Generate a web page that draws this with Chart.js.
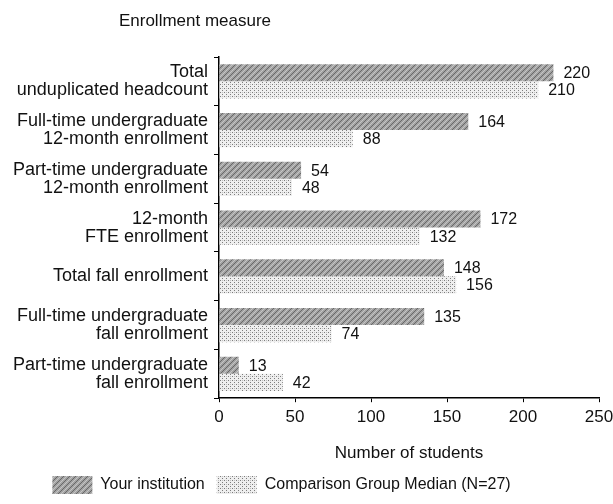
<!DOCTYPE html>
<html><head><meta charset="utf-8">
<script src="https://cdn.jsdelivr.net/npm/chart.js@4"></script>
<style>html,body{margin:0;padding:0;background:#fff}</style>
</head><body>
<canvas id="c" width="613" height="504"></canvas>
<script>
const categories = [
  ["Total", "unduplicated headcount"],
  ["Full-time undergraduate", "12-month enrollment"],
  ["Part-time undergraduate", "12-month enrollment"],
  ["12-month", "FTE enrollment"],
  ["Total fall enrollment"],
  ["Full-time undergraduate", "fall enrollment"],
  ["Part-time undergraduate", "fall enrollment"]
];
const yourInstitution = [220, 164, 54, 172, 148, 135, 13];
const comparisonMedian = [210, 88, 48, 132, 156, 74, 42];
const seriesNames = ["Your institution", "Comparison Group Median (N=27)"];
const xTicks = [0, 50, 100, 150, 200, 250];
const xAxisTitle = "Number of students";
const yAxisTitle = "Enrollment measure";

const FONT = '"Liberation Sans", Arial, sans-serif';

function makePattern(kind) {
  const c = document.createElement('canvas');
  const g = c.getContext('2d');
  if (kind === 'dark') {
    c.width = 6; c.height = 6;
    g.fillStyle = '#a2a2a2'; g.fillRect(0, 0, 6, 6);
    g.fillStyle = '#686868';
    for (let i = 0; i < 6; i++) g.fillRect(i, 5 - i, 1, 1);
    g.fillStyle = '#c6c6c6';
    for (let i = 0; i < 6; i++) g.fillRect(i, (8 - i) % 6, 1, 1);
  } else {
    c.width = 4; c.height = 4;
    g.fillStyle = '#efefef'; g.fillRect(0, 0, 4, 4);
    g.fillStyle = '#7c7c7c';
    g.fillRect(0, 0, 1, 1); g.fillRect(2, 2, 1, 1);
    g.fillStyle = '#c0c0c0';
    g.fillRect(2, 0, 1, 1);
  }
  return g.createPattern(c, 'repeat');
}

const valueLabels = {
  id: 'valueLabels',
  afterDatasetsDraw(chart) {
    const ctx = chart.ctx;
    ctx.save();
    ctx.font = '16px ' + FONT;
    ctx.fillStyle = '#111';
    ctx.textBaseline = 'middle';
    ctx.textAlign = 'left';
    chart.data.datasets.forEach((ds, di) => {
      chart.getDatasetMeta(di).data.forEach((el, i) => {
        ctx.fillText(String(ds.data[i]), el.x + 10, el.y + 1);
      });
    });
    ctx.restore();
  }
};

const yTitle = {
  id: 'yTitle',
  afterDraw(chart) {
    const ctx = chart.ctx;
    ctx.save();
    ctx.font = '17px ' + FONT;
    ctx.fillStyle = '#111';
    ctx.textAlign = 'center';
    ctx.textBaseline = 'middle';
    ctx.fillText(yAxisTitle, chart.chartArea.left - 24, 21);
    ctx.restore();
  }
};

const legendShift = {
  id: 'legendShift',
  afterLayout(chart) {
    if (chart.legend) { chart.legend.left -= 18; chart.legend.right -= 18; }
  }
};

new Chart(document.getElementById('c'), {
  type: 'bar',
  data: {
    labels: categories,
    datasets: [
      { label: seriesNames[0], data: yourInstitution, backgroundColor: makePattern('dark'), borderWidth: 0,
        categoryPercentage: 0.7, barPercentage: 1.0 },
      { label: seriesNames[1], data: comparisonMedian, backgroundColor: makePattern('light'), borderWidth: 0,
        categoryPercentage: 0.7, barPercentage: 1.0 }
    ]
  },
  options: {
    indexAxis: 'y',
    responsive: false,
    animation: false,
    devicePixelRatio: 1,
    layout: { padding: { top: 57, right: 14, left: 0, bottom: 0 } },
    plugins: {
      legend: {
        position: 'bottom',
        labels: { boxWidth: 40, boxHeight: 18, padding: 12, color: '#111', font: { family: FONT, size: 16 } }
      },
      tooltip: { enabled: false },
      title: { display: false }
    },
    scales: {
      x: {
        min: 0, max: 250,
        afterBuildTicks(s) { s.ticks = xTicks.map(v => ({ value: v })); },
        afterFit(s) { s.paddingRight = 0; s.paddingLeft = 0; },
        ticks: { color: '#111', padding: 5, font: { family: FONT, size: 17 } },
        grid: { drawOnChartArea: false, tickLength: 4, color: '#000' },
        border: { color: '#000', width: 1.5 },
        title: { display: true, text: xAxisTitle, color: '#111', font: { family: FONT, size: 17 }, padding: { top: 11, bottom: 0 } }
      },
      y: {
        offset: true,
        ticks: { color: '#111', padding: 6, autoSkip: false, font: { family: FONT, size: 18, lineHeight: 1.0 } },
        grid: { drawOnChartArea: false, offset: true, tickLength: 5, color: '#000' },
        border: { color: '#000', width: 1.5 },
        afterFit(s) { s.width = 219; }
      }
    }
  },
  plugins: [valueLabels, yTitle, legendShift]
});
</script>
</body></html>
